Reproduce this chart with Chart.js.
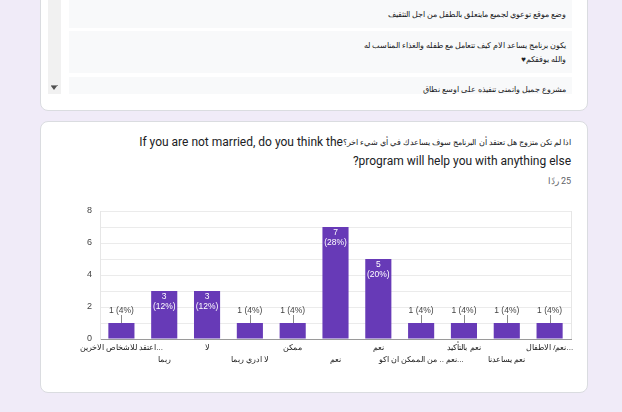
<!DOCTYPE html>
<html><head><meta charset="utf-8">
<script src="https://cdn.jsdelivr.net/npm/chart.js@4"></script>
<style>
html,body{margin:0;padding:0;}
body{width:622px;height:412px;background:#f0ebf8;position:relative;overflow:hidden;font-family:Roboto,Arial,sans-serif;}
.card{position:absolute;left:40px;width:548px;background:#fff;border:1px solid #dadce0;border-radius:8px;box-sizing:border-box;}
#c1{top:-20px;height:131px;}
#c2{top:121px;height:272px;}
.scroll{position:absolute;left:48px;top:0;width:524px;height:94px;overflow:hidden;}
.strip{position:absolute;left:0;top:0;width:13px;height:94px;background:#f1f1f1;}
.arrow{position:absolute;left:3px;top:86px;width:0;height:0;border-left:3.5px solid transparent;border-right:3.5px solid transparent;border-top:4px solid #505050;}
.arrowbar{position:absolute;left:3px;top:85px;width:7px;height:1px;background:#909090;}
.box{position:absolute;left:21px;width:503px;background:#f8f9fa;direction:rtl;text-align:right;font-size:7.9px;color:#202124;box-sizing:border-box;padding-right:6px;white-space:nowrap;}
#b1{top:-20px;height:48px;padding-top:29px;line-height:12px;}
#b2{top:31px;height:42px;padding-top:8px;line-height:14px;}
#b3{top:77px;height:30px;padding-top:7px;line-height:12px;}
.tl{position:absolute;right:51px;height:19px;line-height:19px;font-size:12px;color:#202124;white-space:nowrap;display:flex;align-items:center;justify-content:flex-end;}
.tl span{display:block;}
.tl .ar{font-size:8.4px;direction:rtl;unicode-bidi:isolate;}
.tl .en{direction:ltr;unicode-bidi:isolate;}
#t1{top:133px;}
#t2{top:152px;}
#resp{position:absolute;right:51px;top:175px;line-height:12px;font-size:9px;color:#5f6368;direction:rtl;text-align:right;white-space:nowrap;}
#chart{position:absolute;left:40px;top:195px;}
</style>
</head><body>
<div class="card" id="c1"></div>
<div class="scroll">
  <div class="strip"><div class="arrowbar"></div><div class="arrow"></div></div>
  <div class="box" id="b1">وضع موقع توعوي لجميع مايتعلق بالطفل من اجل التثقيف</div>
  <div class="box" id="b2">يكون برنامج يساعد الام كيف تتعامل مع طفله والغذاء المناسب له<br>والله يوفقكم♥</div>
  <div class="box" id="b3">مشروع جميل واتمنى تنفيذه على اوسع نطاق</div>
</div>
<div class="card" id="c2"></div>
<div class="tl" id="t1"><span class="en">If you are not married, do you think the</span><span class="ar">اذا لم تكن متزوج هل تعتقد أن البرنامج سوف يساعدك في أي شيء اخر؟</span></div>
<div class="tl" id="t2"><span class="en">?program will help you with anything else</span></div>
<div id="resp">25 ردًا</div>
<canvas id="chart" width="548" height="180" style="width:548px;height:180px"></canvas>
<script>
const categories = ['اعتقد للاشخاص الاخرين...', 'ربما', 'لا', 'لا ادري ربما', 'ممكن', 'نعم', 'نعم', 'نعم .. من الممكن ان اكو...', 'نعم بالتأكيد', 'نعم يساعدنا', 'نعم/ الاطفال...'];
const counts = [1, 3, 3, 1, 1, 7, 5, 1, 1, 1, 1];
const yMax = 8;
const yStep = 1;
const yLabelEvery = 2;

const total = counts.reduce((a, b) => a + b, 0);
const FONT = 'Arial, "Liberation Sans", sans-serif';

const valueLabels = {
  id: 'valueLabels',
  afterDatasetsDraw(chart) {
    const ctx = chart.ctx;
    const meta = chart.getDatasetMeta(0);
    const a = chart.chartArea;
    ctx.save();
    ctx.strokeStyle = '#e6e6e6';
    ctx.lineWidth = 1;
    ctx.beginPath();
    ctx.moveTo(Math.round(a.right) + 0.5, a.top);
    ctx.lineTo(Math.round(a.right) + 0.5, a.bottom);
    ctx.stroke();
    ctx.font = '8.5px ' + FONT;
    ctx.textAlign = 'center';
    ctx.textBaseline = 'middle';
    meta.data.forEach((bar, i) => {
      const v = counts[i];
      const pct = Math.round(v / total * 100);
      const x = bar.x, top = bar.y;
      if (bar.base - bar.y > 30) {
        ctx.fillStyle = '#ffffff';
        ctx.fillText(String(v), x, top + 6);
        ctx.fillText('(' + pct + '%)', x, top + 16);
      } else {
        ctx.fillStyle = '#444444';
        ctx.fillText(v + ' (' + pct + '%)', x, top - 12);
        ctx.strokeStyle = '#8a8a8a';
        ctx.beginPath();
        ctx.moveTo(Math.round(x) + 0.5, top - 8);
        ctx.lineTo(Math.round(x) + 0.5, top);
        ctx.stroke();
      }
    });
    ctx.restore();
  }
};

new Chart(document.getElementById('chart'), {
  type: 'bar',
  data: {
    labels: categories,
    datasets: [{
      data: counts,
      backgroundColor: '#673ab7',
      borderWidth: 0,
      categoryPercentage: 1,
      barPercentage: 0.61
    }]
  },
  options: {
    responsive: false,
    animation: false,
    devicePixelRatio: 1,
    layout: { padding: { top: 16, right: 17, bottom: 0, left: 0 } },
    plugins: { legend: { display: false }, tooltip: { enabled: false } },
    scales: {
      x: {
        grid: { display: false, drawTicks: false },
        border: { display: true, color: '#9a9a9a', width: 1 },
        ticks: {
          autoSkip: false, maxRotation: 0, minRotation: 0, padding: 3,
          color: '#222222',
          font: { family: FONT, size: 8, lineHeight: 1.5 },
          callback: (val, i) => (i % 2 === 0 ? [categories[i], ''] : ['', categories[i]])
        },
        afterFit: s => { s.height = 36; }
      },
      y: {
        min: 0, max: yMax,
        grid: { color: '#ebebeb', drawTicks: false },
        border: { display: true, color: '#e6e6e6' },
        ticks: {
          stepSize: yStep, padding: 8, color: '#444444',
          font: { family: FONT, size: 9 },
          callback: v => (v % yLabelEvery === 0 ? v : '')
        },
        afterFit: s => { s.width = 60; }
      }
    }
  },
  plugins: [valueLabels]
});
</script>
</body></html>
